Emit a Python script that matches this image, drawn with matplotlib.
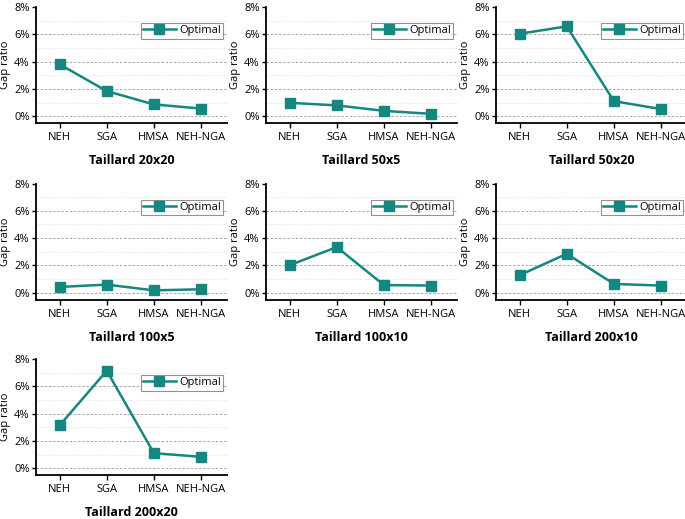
import matplotlib.pyplot as plt
from matplotlib.ticker import FuncFormatter, MultipleLocator

plt.rcParams['font.family'] = ['Open Sans', 'DejaVu Sans']

methods = ["NEH", "SGA", "HMSA", "NEH-NGA"]
titles = ["Taillard 20x20", "Taillard 50x5", "Taillard 50x20",
          "Taillard 100x5", "Taillard 100x10", "Taillard 200x10",
          "Taillard 200x20"]
gap_20x20 = [3.80, 1.84, 0.86, 0.56]
gap_50x5 = [0.98, 0.79, 0.39, 0.17]
gap_50x20 = [6.04, 6.58, 1.10, 0.52]
gap_100x5 = [0.42, 0.59, 0.17, 0.25]
gap_100x10 = [2.01, 3.34, 0.56, 0.52]
gap_200x10 = [1.28, 2.85, 0.64, 0.52]
gap_200x20 = [3.13, 7.14, 1.10, 0.83]
series = [gap_20x20, gap_50x5, gap_50x20, gap_100x5, gap_100x10, gap_200x10, gap_200x20]

color = "#168680"

fig = plt.figure(figsize=(6.85, 5.19), dpi=100)
W, H = 685, 519
col_left = [36, 266, 496]
row_top = [7, 183.5, 359]
ax_w, ax_h = 191, 116

for i, (title, vals) in enumerate(zip(titles, series)):
    r, c = divmod(i, 3)
    ax = fig.add_axes([col_left[c] / W, 1 - (row_top[r] + ax_h) / H, ax_w / W, ax_h / H])
    x = list(range(len(methods)))
    ax.plot(x, vals, color=color, lw=1.8, marker='s', markersize=6.5,
            markerfacecolor=color, markeredgecolor=color, label="Optimal")
    ax.set_xlim(-0.5, 3.55)
    ax.set_ylim(-0.5, 8)
    ax.set_xticks(x)
    ax.set_xticklabels(methods, fontsize=8)
    ax.yaxis.set_major_locator(MultipleLocator(2))
    ax.yaxis.set_minor_locator(MultipleLocator(1))
    ax.yaxis.set_major_formatter(FuncFormatter(lambda v, p: "{:.0f}%".format(v)))
    ax.tick_params(axis='y', labelsize=8, length=3, width=1, pad=1.5)
    ax.tick_params(axis='y', which='minor', length=0)
    ax.tick_params(axis='x', length=3.5, width=1, pad=3)
    for v in [0, 2, 4, 6]:
        ax.axhline(v, color='#9a9a9a', lw=0.6, ls=(0, (3, 2)), zorder=0)
    for v in [1, 3, 5, 7]:
        ax.axhline(v, color='#dadada', lw=0.6, ls=(0, (1, 1.5)), zorder=0)
    for s in ['top', 'right']:
        ax.spines[s].set_visible(False)
    for s in ['left', 'bottom']:
        ax.spines[s].set_linewidth(1.3)
    ax.set_ylabel("Gap ratio", fontsize=8, labelpad=2)
    ax.set_xlabel(title, fontsize=9, fontweight='bold', labelpad=8)
    leg = ax.legend(loc='upper right', bbox_to_anchor=(0.99, 0.88), fontsize=8,
                    frameon=True, fancybox=False, handlelength=3.0,
                    handletextpad=0.25, borderpad=0.2, borderaxespad=0.2)
    leg.get_frame().set_edgecolor('#777777')
    leg.get_frame().set_linewidth(0.8)

fig.savefig("out.png", dpi=100)
